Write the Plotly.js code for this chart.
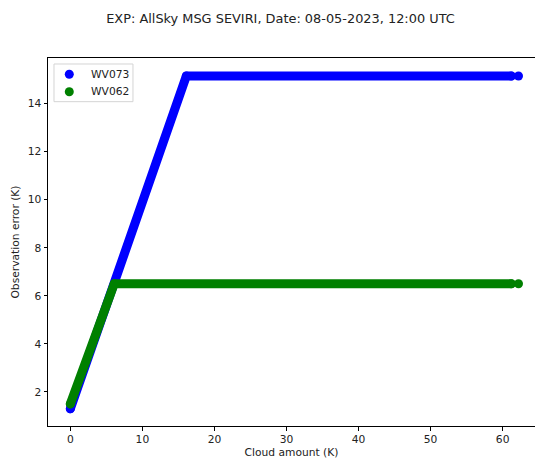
<!DOCTYPE html>
<html>
<head>
<meta charset="utf-8">
<script src="https://cdn.plot.ly/plotly-3.0.1.min.js"></script>
<style>
html, body { margin: 0; padding: 0; background: #fff; overflow: hidden; }
#chart { width: 535px; height: 459px; }
path.js-line { stroke-linejoin: round !important; stroke-linecap: round !important; }
</style>
</head>
<body>
<div id="chart"></div>
<script>
// Values
const seriesNames = ["WV073", "WV062"];
const wv073Cloud = [0.0, 16.1, 61.2, 62.2];   // cloud amount (K)
const wv073Err   = [1.3, 15.15, 15.15, 15.15]; // observation error (K)
const wv062Cloud = [0.0, 6.1, 61.2, 62.2];
const wv062Err   = [1.5, 6.5, 6.5, 6.5];
const xTicks = [0, 10, 20, 30, 40, 50, 60];
const yTicks = [2, 4, 6, 8, 10, 12, 14];

const colors = ["#0000ff", "#008000"];
const font = "DejaVu Sans, sans-serif";

function bandTrace(x, y, color) {
  return {
    x: x.slice(0, 3), y: y.slice(0, 3), type: "scatter", mode: "lines",
    line: { color: color, width: 9 }, showlegend: false, hoverinfo: "skip"
  };
}
function pointTrace(x, y, color, name) {
  return {
    x: x, y: y, type: "scatter", mode: "markers", name: name, showlegend: false,
    marker: { color: color, size: 9, line: { width: 0 } }
  };
}

const data = [
  bandTrace(wv073Cloud, wv073Err, colors[0]),
  pointTrace(wv073Cloud, wv073Err, colors[0], seriesNames[0]),
  bandTrace(wv062Cloud, wv062Err, colors[1]),
  pointTrace(wv062Cloud, wv062Err, colors[1], seriesNames[1])
];

const textFont = { family: font, size: 10.7, color: "#222" };
const axisCommon = {
  showgrid: false, zeroline: false, showline: true, linecolor: "#000", linewidth: 1,
  ticks: "outside", ticklen: 3.5, tickwidth: 1, tickcolor: "#000",
  tickfont: textFont
};

// Legend (drawn as a box, marker circles and labels, in the matplotlib style)
const legX0 = 0.0123, legX1 = 0.1745, legYTop = 0.9837, legYBot = 0.8813;
const legMarkX = 0.0437, legTextX = 0.0848, legRowY = [0.9557, 0.9084];
const shapes = [{
  type: "rect", xref: "paper", yref: "paper",
  x0: legX0, x1: legX1, y0: legYBot, y1: legYTop,
  line: { color: "#d4d4d4", width: 1 }, fillcolor: "rgba(255,255,255,0.8)", layer: "above"
}];
const annotations = [];
seriesNames.forEach((name, i) => {
  shapes.push({
    type: "circle", xref: "paper", yref: "paper", xsizemode: "pixel", ysizemode: "pixel",
    xanchor: legMarkX, yanchor: legRowY[i], x0: -4.5, x1: 4.5, y0: -4.5, y1: 4.5,
    fillcolor: colors[i], line: { width: 0 }, layer: "above"
  });
  annotations.push({
    xref: "paper", yref: "paper", x: legTextX, y: legRowY[i],
    xanchor: "left", yanchor: "middle", showarrow: false,
    text: name, font: textFont
  });
});

const layout = {
  width: 535, height: 459,
  paper_bgcolor: "#fff", plot_bgcolor: "#fff",
  margin: { l: 48, r: 0, t: 58, b: 33 },
  title: {
    text: "EXP: AllSky MSG SEVIRI, Date: 08-05-2023, 12:00 UTC",
    font: { family: font, size: 12.9, color: "#222" },
    x: 280.5 / 535, xref: "container", xanchor: "center",
    y: 1 - 18 / 459, yref: "container", yanchor: "middle"
  },
  xaxis: Object.assign({}, axisCommon, {
    range: [-3.1, 64.49], tickvals: xTicks, ticktext: xTicks.map(String), mirror: true,
    title: { text: "Cloud amount (K)", font: textFont, standoff: 7 }
  }),
  yaxis: Object.assign({}, axisCommon, {
    range: [0.58, 15.9], tickvals: yTicks, ticktext: yTicks.map(String), mirror: false,
    title: { text: "Observation error (K)", font: textFont, standoff: 6 }
  }),
  showlegend: false,
  shapes: shapes,
  annotations: annotations
};

Plotly.newPlot("chart", data, layout, { displayModeBar: false, staticPlot: true });
</script>
</body>
</html>
